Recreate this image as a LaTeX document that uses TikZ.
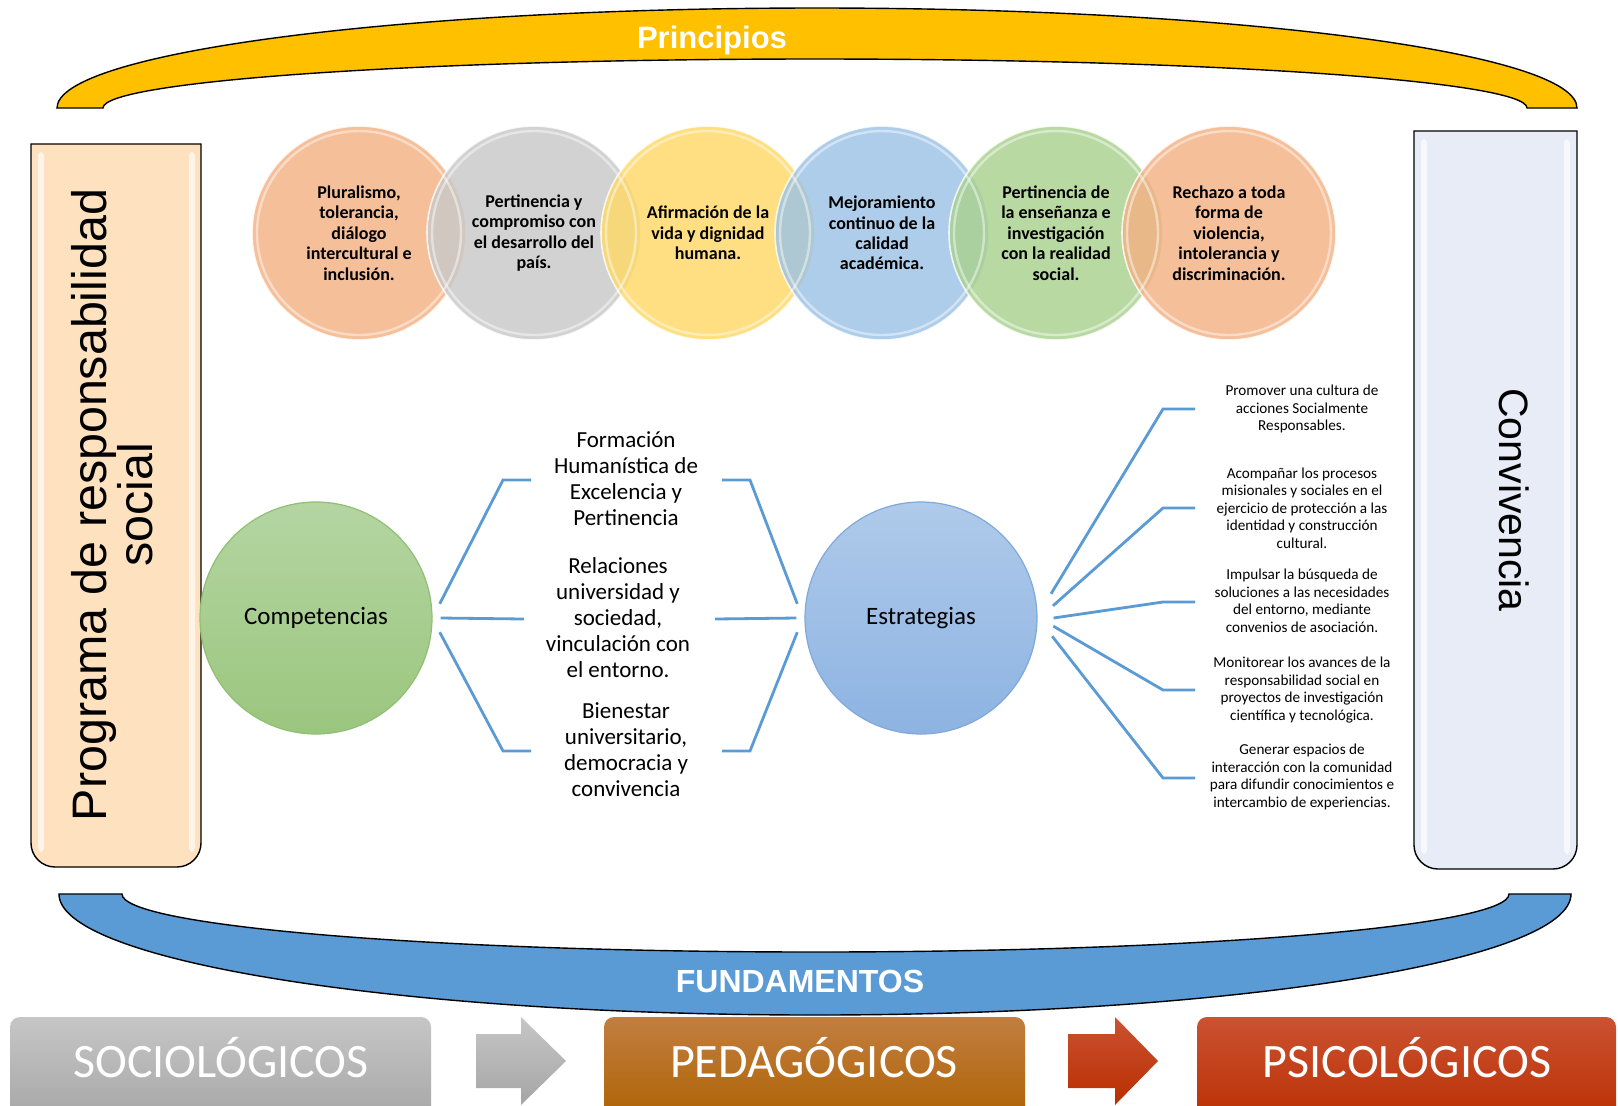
\documentclass[tikz,border=0pt]{standalone}
\usepackage{fontspec}
\setmainfont{Carlito}
\newfontfamily\arialfont{Liberation Sans}
\usetikzlibrary{positioning}
\definecolor{prYellow}{HTML}{FFC000}
\definecolor{fuBlue}{HTML}{5B9BD5}
\definecolor{progPeach}{HTML}{FEE1BF}
\definecolor{convGrey}{HTML}{E8ECF6}
\definecolor{pOrange}{HTML}{F4B183}
\definecolor{pGrey}{HTML}{C9C9C9}
\definecolor{pGold}{HTML}{FFD966}
\definecolor{pSky}{HTML}{9DC3E6}
\definecolor{pLeaf}{HTML}{A9D18E}
\definecolor{compTop}{HTML}{B4D5A2}
\definecolor{compBot}{HTML}{9BC67E}
\definecolor{compLine}{HTML}{8FBF72}
\definecolor{estTop}{HTML}{AFCAEA}
\definecolor{estBot}{HTML}{8DB3E2}
\definecolor{estLine}{HTML}{7FA9DA}
\definecolor{fanBlue}{HTML}{5B9BD5}
\definecolor{socTop}{HTML}{C6C6C6}
\definecolor{socBot}{HTML}{A5A5A5}
\definecolor{pedTop}{HTML}{C27E40}
\definecolor{pedBot}{HTML}{AD6100}
\definecolor{psiTop}{HTML}{CB5232}
\definecolor{psiBot}{HTML}{B92E00}

\begin{document}
\begin{tikzpicture}[
    x=0.5pt, y=-0.5pt,
    arcband/.style={draw=black, line width=0.7pt},
    tall/.style={draw=black, line width=0.7pt},
    gloss/.style={fill=white, opacity=0.65, rounded corners=2pt},
    prin/.style={circle, minimum size=107pt, inner sep=0pt, align=center, draw=white, line width=0.8pt, fill opacity=0.82, draw opacity=0.8, text opacity=1, font=\bfseries\fontsize{9}{10.2}\selectfont},
    hub/.style={circle, minimum size=116pt, inner sep=0pt, line width=0.6pt, font=\fontsize{12.5}{15}\selectfont},
    midtext/.style={align=center, inner sep=1pt, font=\fontsize{11.5}{13}\selectfont},
    strat/.style={align=center, inner sep=1pt, font=\fontsize{7.6}{8.75}\selectfont},
    fanline/.style={draw=fanBlue, line width=1.4pt},
    basebox/.style={rounded corners=5pt},
    baselab/.style={text=white, font=\fontsize{24}{28}\selectfont},
    headline/.style={text=white, font=\arialfont\bfseries\fontsize{15.5}{18}\selectfont},
  ]
  \fill[white] (0,0) rectangle (1618,1105);
  \useasboundingbox (0,0) rectangle (1618,1105);

  % principios / fundamentos bands
  \draw[arcband, fill=prYellow] (57,108) arc[start angle=180, end angle=360, x radius=760, y radius=100]
    -- (1527,108) arc[start angle=360, end angle=180, x radius=712, y radius=49] -- cycle;
  \node[headline] (princ) at (712,40) {Principios};
  \draw[arcband, fill=fuBlue] (59,894) arc[start angle=180, end angle=0, x radius=756, y radius=121]
    -- (1509,894) arc[start angle=0, end angle=180, x radius=693.5, y radius=58] -- cycle;
  \node[headline, font=\arialfont\bfseries\fontsize{16}{18}\selectfont] (fund) at (800,981) {FUNDAMENTOS};

  % side panels
  \draw[tall, fill=progPeach] (31,144) -- (31,700) [rounded corners=12pt] -- (31,867) -- (201,867) -- (201,700) [sharp corners] -- (201,144) -- cycle;
  \fill[gloss] (38,152) rectangle (44,852);
  \fill[gloss] (189,152) rectangle (195,852);
  \node[rotate=90, align=center, font=\arialfont\fontsize{24.2}{23}\selectfont] (prog) at (112,505) {Programa de responsabilidad\\ social};
  \draw[tall, fill=convGrey] (1414,131) -- (1414,700) [rounded corners=12pt] -- (1414,869) -- (1577,869) -- (1577,700) [sharp corners] -- (1577,131) -- cycle;
  \fill[gloss] (1421,139) rectangle (1427,854);
  \fill[gloss] (1564,139) rectangle (1570,854);
  \node[rotate=-90, font=\arialfont\fontsize{20.5}{24}\selectfont] (conv) at (1514,500) {Convivencia};

  % principios circles
  \node[prin, fill=pOrange] (p1) at (359,233) {Pluralismo,\\ tolerancia,\\ diálogo\\ intercultural e\\ inclusión.};
  \node[prin, fill=pGrey] (p2) at (534,233) {Pertinencia y\\ compromiso con\\ el desarrollo del\\ país.};
  \node[prin, fill=pGold] (p3) at (708,233) {Afirmación de la\\ vida y dignidad\\ humana.};
  \node[prin, fill=pSky] (p4) at (882,233) {Mejoramiento\\ continuo de la\\ calidad\\ académica.};
  \node[prin, fill=pLeaf] (p5) at (1056,233) {Pertinencia de\\ la enseñanza e\\ investigación\\ con la realidad\\ social.};
  \node[prin, fill=pOrange] (p6) at (1229,233) {Rechazo a toda\\ forma de\\ violencia,\\ intolerancia y\\ discriminación.};
  \foreach \p in {p1,p2,p3,p4,p5,p6}
    \draw[white, line width=1.2pt, opacity=0.45] (\p) circle[radius=102];

  % competencias and estrategias
  \node[hub, top color=compTop, bottom color=compBot, draw=compLine] (comp) at (316,618) {Competencias};
  \node[hub, top color=estTop, bottom color=estBot, draw=estLine] (estr) at (921,618) {Estrategias};
  \node[midtext] (f1) at (626,479) {Formación\\ Humanística de\\ Excelencia y\\ Pertinencia};
  \node[midtext] (f2) at (618,618) {Relaciones\\ universidad y\\ sociedad,\\ vinculación con\\ el entorno.};
  \node[midtext] (f3) at (626,750) {Bienestar\\ universitario,\\ democracia y\\ convivencia};
  \coordinate (l1) at (531,480);
  \coordinate (l2) at (524,619);
  \coordinate (l3) at (531,751);
  \coordinate (r1) at (722,480);
  \coordinate (r2) at (715,619);
  \coordinate (r3) at (722,751);
  \draw[fanline] (l1) -- ++(-28,0) -- ([xshift=4pt]comp.7);
  \draw[fanline] (l2) -- ([xshift=4pt]comp.east);
  \draw[fanline] (l3) -- ++(-28,0) -- ([xshift=4pt]comp.-7);
  \draw[fanline] (r1) -- ++(28,0) -- ([xshift=-4pt]estr.173);
  \draw[fanline] (r2) -- ([xshift=-4pt]estr.west);
  \draw[fanline] (r3) -- ++(28,0) -- ([xshift=-4pt]estr.-173);

  % strategies
  \coordinate (e1) at (1195,409);
  \coordinate (e2) at (1195,508);
  \coordinate (e3) at (1195,602);
  \coordinate (e4) at (1195,690);
  \coordinate (e5) at (1195,778);
  \foreach \e/\a in {1/12, 2/6, 3/0, 4/-4, 5/-9}
    \draw[fanline] (e\e) -- ++(-32,0) -- ([xshift=8pt]estr.\a);
  \node[strat] (st1) at (1302,409) {Promover una cultura de\\ acciones Socialmente\\ Responsables.};
  \node[strat] (st2) at (1302,508) {Acompañar los procesos\\ misionales y sociales en el\\ ejercicio de protección a las\\ identidad y construcción\\ cultural.};
  \node[strat] (st3) at (1302,601) {Impulsar la búsqueda de\\ soluciones a las necesidades\\ del entorno, mediante\\ convenios de asociación.};
  \node[strat] (st4) at (1302,690) {Monitorear los avances de la\\ responsabilidad social en\\ proyectos de investigación\\ científica y tecnológica.};
  \node[strat] (st5) at (1302,777) {Generar espacios de\\ interacción con la comunidad\\ para difundir conocimientos e\\ intercambio de experiencias.};

  % fundamentos boxes
  \path[basebox, top color=socTop, bottom color=socBot] (10,1017) rectangle (431,1125);
  \path[basebox, top color=pedTop, bottom color=pedBot] (604,1017) rectangle (1025,1125);
  \path[basebox, top color=psiTop, bottom color=psiBot] (1197,1017) rectangle (1616,1125);
  \path[top color=socTop, bottom color=socBot] (476,1034) -- (521,1034) -- (521,1017) -- (566,1061)
    -- (521,1105) -- (521,1088) -- (476,1088) -- cycle;
  \path[top color=psiTop, bottom color=psiBot] (1068,1034) -- (1115,1034) -- (1115,1017) -- (1158,1061)
    -- (1115,1105) -- (1115,1088) -- (1068,1088) -- cycle;
  \node[baselab] (soc) at (221,1058) {SOCIOLÓGICOS};
  \node[baselab] (ped) at (814,1058) {PEDAGÓGICOS};
  \node[baselab] (psi) at (1407,1058) {PSICOLÓGICOS};
\end{tikzpicture}
\end{document}
